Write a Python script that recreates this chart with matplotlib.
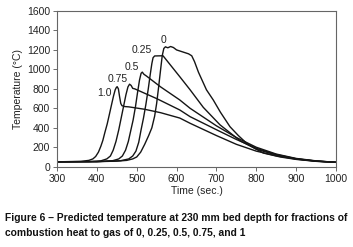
import matplotlib
matplotlib.use("Agg")
import matplotlib.pyplot as plt

plt.rcParams['font.family'] = ['Liberation Sans', 'DejaVu Sans']

# Curve data (time in s, temperature in °C)
t_0 = [300, 400, 450, 475, 490, 500, 510, 520, 530, 538, 545, 550, 555, 560, 564, 568, 572, 578,
       585, 592, 600, 615, 630, 638, 645, 655, 665, 675, 692, 710, 734, 755, 776, 800, 818, 860,
       900, 950, 1000]
T_0 = [50, 52, 57, 65, 80, 100, 150, 230, 320, 400, 520, 650, 820, 1000, 1140, 1215, 1232, 1222,
       1235, 1225, 1200, 1180, 1160, 1140, 1080, 970, 880, 790, 686, 560, 411, 320, 240, 180, 140,
       100, 75, 55, 45]

t_025 = [300, 400, 460, 480, 490, 498, 505, 511, 517, 523, 529, 534, 538, 541, 545, 566, 608,
         634, 667, 709, 760, 800, 850, 900, 950, 1000]
T_025 = [50, 52, 62, 80, 110, 160, 250, 380, 500, 640, 800, 950, 1060, 1120, 1138, 1140, 925,
         790, 610, 430, 265, 180, 120, 80, 58, 45]

t_05 = [300, 400, 440, 455, 464, 472, 479, 485, 491, 497, 502, 507, 511, 514, 518, 525, 560,
        608, 634, 700, 750, 800, 850, 900, 950, 1000]
T_05 = [50, 52, 62, 80, 110, 170, 260, 370, 480, 620, 760, 890, 960, 972, 950, 930, 820,
        686, 600, 420, 300, 200, 130, 85, 60, 45]

t_075 = [300, 380, 410, 425, 434, 441, 448, 455, 461, 467, 473, 478, 482, 486, 490, 495, 550,
         608, 634, 700, 750, 800, 850, 900, 950, 1000]
T_075 = [50, 53, 60, 80, 110, 170, 260, 380, 500, 620, 740, 820, 848, 835, 805, 800, 700,
         583, 514, 380, 280, 190, 125, 82, 58, 45]

t_10 = [300, 360, 380, 390, 397, 404, 410, 415, 420, 426, 431, 437, 442, 446, 449, 451, 454,
        457, 460, 463, 470, 480, 520, 560, 608, 634, 700, 750, 800, 850, 900, 950, 1000]
T_10 = [50, 55, 65, 80, 105, 150, 210, 270, 350, 440, 530, 640, 730, 790, 815, 822, 800,
        720, 650, 627, 618, 615, 590, 555, 500, 446, 320, 230, 160, 112, 78, 56, 45]

curve_labels = ['0', '0.25', '0.5', '0.75', '1.0']
label_pos_t = [567, 512, 487, 453, 420]
label_pos_T = [1302, 1200, 1028, 900, 756]

x_ticks = [300, 400, 500, 600, 700, 800, 900, 1000]
y_ticks = [0, 200, 400, 600, 800, 1000, 1200, 1400, 1600]

fig = plt.figure(figsize=(3.53, 2.47), dpi=100)
ax = fig.add_axes([57/353, 1 - 166.7/247, (336-57)/353, (166.7-11)/247])

for t, T in [(t_0, T_0), (t_025, T_025), (t_05, T_05), (t_075, T_075), (t_10, T_10)]:
    ax.plot(t, T, color='#151515', lw=1.0, solid_joinstyle='round')

for lab, lt, lT in zip(curve_labels, label_pos_t, label_pos_T):
    ax.text(lt, lT, lab, fontsize=7.5, color='#222222', ha='center', va='center')

ax.set_xlim(300, 1000)
ax.set_ylim(0, 1600)
ax.set_xticks(x_ticks)
ax.set_yticks(y_ticks)
ax.tick_params(direction='out', length=3, width=0.6, colors='#555555',
               labelcolor='#222222', labelsize=7.5, pad=2)
for s in ax.spines.values():
    s.set_color('#666666')
    s.set_linewidth(0.8)

ax.set_xlabel('Time (sec.)', fontsize=7.5, color='#222222', labelpad=2)
ax.set_ylabel('Temperature (°C)', fontsize=7.5, color='#222222', labelpad=3)

cap_font = ['Liberation Sans Narrow', 'Liberation Sans', 'DejaVu Sans']
fig.text(5/353, 1 - 218/247,
         'Figure 6 – Predicted temperature at 230 mm bed depth for fractions of',
         fontsize=7.4, fontweight='bold', family=cap_font, color='#111111', va='center', ha='left')
fig.text(5/353, 1 - 233/247,
         'combustion heat to gas of 0, 0.25, 0.5, 0.75, and 1',
         fontsize=7.4, fontweight='bold', family=cap_font, color='#111111', va='center', ha='left')

fig.savefig('out.png', dpi=100)
